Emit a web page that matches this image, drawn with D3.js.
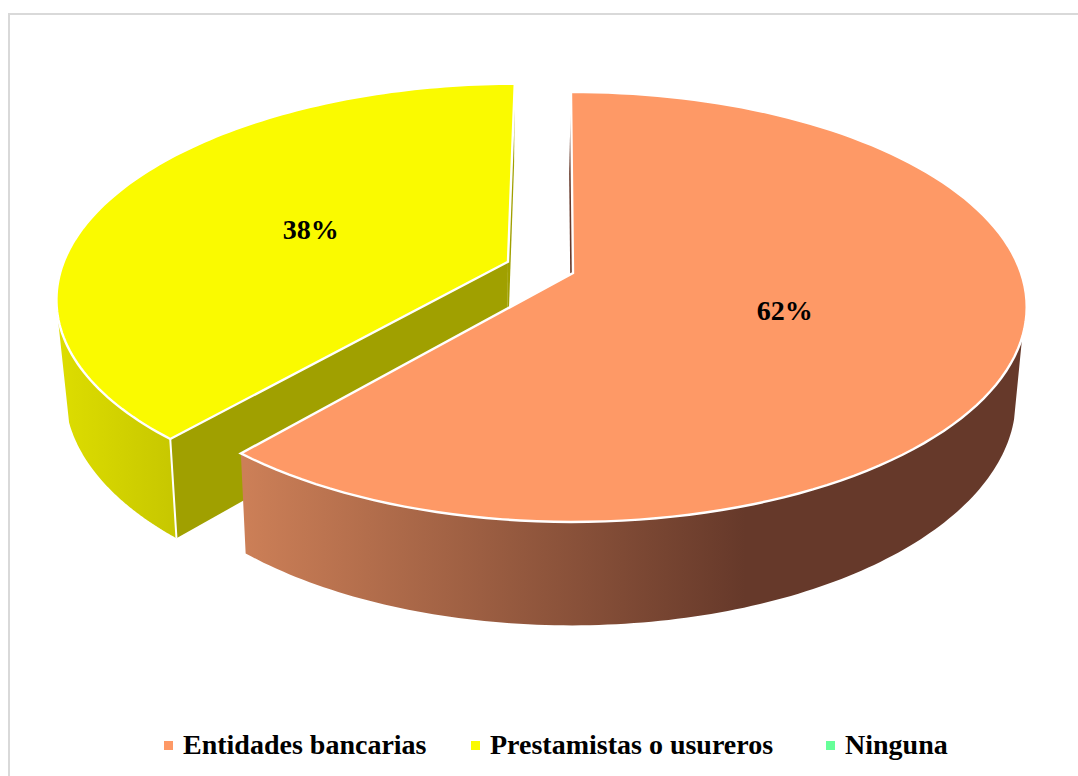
<!DOCTYPE html>
<html>
<head>
<meta charset="utf-8">
<script src="https://cdn.jsdelivr.net/npm/d3@7"></script>
<style>
    html, body { margin: 0; background: #fff; }
    svg { display: block; font-family: "Liberation Serif", "Times New Roman", serif; font-weight: bold; }
</style>
</head>
<body>
<div id="chart"></div>
<script>
// shares are estimated from the slice angles, the labels are what the chart prints
let categories = ["Entidades bancarias", "Prestamistas o usureros", "Ninguna"];
let shares = [61.4, 38.6, 0];
let shareLabels = ["62%", "38%", ""];
let colors = ["#fe9966", "#fafa00", "#66ff99"];
let wallColors = [["#cc7f57", "#66392a"], ["#dddd00", "#c6c600"]];
let radialColors = ["#66392a", "#a0a000"];

let width = 1078, height = 776;

// perspective of the tilted disc: "near" shrinks/grows a point by how far forward it is
let near = 0.158;
let xDisc = d3.scaleLinear().domain([-1, 1]).range([573 - 448, 573 + 448]);
let yDisc = d3.scaleLinear().domain([-1, 1]).range([273 - 209.6, 273 + 209.6]);

// the lower face of the extrusion
let xLower = d3.scaleLinear().domain([480, 1027]).range([480, 480 + 547 * 0.98]);
let yLower = d3.scaleLinear().domain([273, 500]).range([273 + 91, 273 + 91 + 227 * 1.05]);

let explode = [0, 0.156];
let legendX = [164, 471, 826];

let svg = d3.select("#chart").append("svg")
    .attr("width", width)
    .attr("height", height);

let defs = svg.append("defs");

svg.append("rect")
    .attr("x", 9).attr("y", 14)
    .attr("width", width + 20).attr("height", height + 20)
    .attr("fill", "#fff")
    .attr("stroke", "#d9d9d9")
    .attr("stroke-width", 2);

let pie = d3.pie().sort(null)
    .startAngle(-0.3 * Math.PI / 180)
    .endAngle((360 - 0.3) * Math.PI / 180);
let slices = pie(shares);

function project(d, angle, radius) {
    let mid = (d.startAngle + d.endAngle) / 2;
    let off = explode[d.index] || 0;
    let u = radius * Math.sin(angle) + off * Math.sin(mid);
    let v = -radius * Math.cos(angle) - off * Math.cos(mid);
    let s = 1 / (1 - near * v);
    return [xDisc(u * s), yDisc(v * s)];
}

function lower(p) {
    return [xLower(p[0]), yLower(p[1])];
}

function rim(d, a0, a1) {
    return d3.range(0, 121).map(k => project(d, a0 + (a1 - a0) * k / 120, 1));
}

let line = d3.line().curve(d3.curveLinear);

function radialWall(g, d, angle, fill) {
    let apex = project(d, angle, 0), edge = project(d, angle, 1);
    g.append("path")
        .attr("d", line([apex, edge, lower(edge), lower(apex)]) + "Z")
        .attr("fill", fill);
}

function topFace(g, d, fill) {
    let apex = project(d, 0, 0);
    g.append("path")
        .attr("d", line([apex].concat(rim(d, d.startAngle, d.endAngle))) + "Z")
        .attr("fill", fill)
        .attr("stroke", "#fff")
        .attr("stroke-width", 2.4)
        .attr("stroke-linejoin", "miter");
}

function outerWall(g, d, a0, a1, b0, b1, gradId) {
    let top = rim(d, a0, a1);
    let bottom = rim(d, b0, b1).map(lower).reverse();
    g.append("path")
        .attr("d", line(top.concat(bottom)) + "Z")
        .attr("fill", `url(#${gradId})`);
}

function wallGradient(id, x1, x2, pair) {
    let grad = defs.append("linearGradient")
        .attr("id", id)
        .attr("gradientUnits", "userSpaceOnUse")
        .attr("x1", x1).attr("x2", x2)
        .attr("y1", 0).attr("y2", 0);
    grad.append("stop").attr("offset", 0).attr("stop-color", pair[0]);
    grad.append("stop").attr("offset", 1).attr("stop-color", pair[1]);
}

wallGradient("wall-0", 245, 745, wallColors[0]);
wallGradient("wall-1", 60, 180, wallColors[1]);

let rad = Math.PI / 180;
let bank = slices[0], lender = slices[1];
let g = svg.append("g");

// yellow slice, back to front
radialWall(g, lender, lender.endAngle, radialColors[1]);
radialWall(g, lender, lender.startAngle, radialColors[1]);
outerWall(g, lender, lender.startAngle, 257 * rad, lender.startAngle, 252 * rad, "wall-1");
let corner = project(lender, lender.startAngle, 1);
g.append("line")
    .attr("x1", corner[0]).attr("y1", corner[1])
    .attr("x2", lower(corner)[0]).attr("y2", lower(corner)[1])
    .attr("stroke", "#fff").attr("stroke-width", 2);
topFace(g, lender, colors[1]);

// orange slice
radialWall(g, bank, bank.startAngle, radialColors[0]);
outerWall(g, bank, 107 * rad, bank.endAngle, 104 * rad, bank.endAngle, "wall-0");
topFace(g, bank, colors[0]);

// percentage labels
g.selectAll("text.pct")
    .data(slices.filter(d => d.value > 0))
    .enter()
    .append("text").classed("pct", true)
    .attr("x", d => project(d, (d.startAngle + d.endAngle) / 2, 0.49)[0])
    .attr("y", d => project(d, (d.startAngle + d.endAngle) / 2, 0.49)[1] + 1)
    .attr("dy", "0.35em")
    .attr("text-anchor", "middle")
    .attr("font-size", 28)
    .attr("fill", "#000")
    .text(d => shareLabels[d.index]);

// legend
let legend = svg.append("g");
categories.forEach(function (name, i) {
    legend.append("rect")
        .attr("x", legendX[i]).attr("y", 741)
        .attr("width", 9).attr("height", 9)
        .attr("fill", colors[i]);
    legend.append("text")
        .attr("x", legendX[i] + 19).attr("y", 754)
        .attr("font-size", 28)
        .attr("fill", "#000")
        .text(name);
});
</script>
</body>
</html>
